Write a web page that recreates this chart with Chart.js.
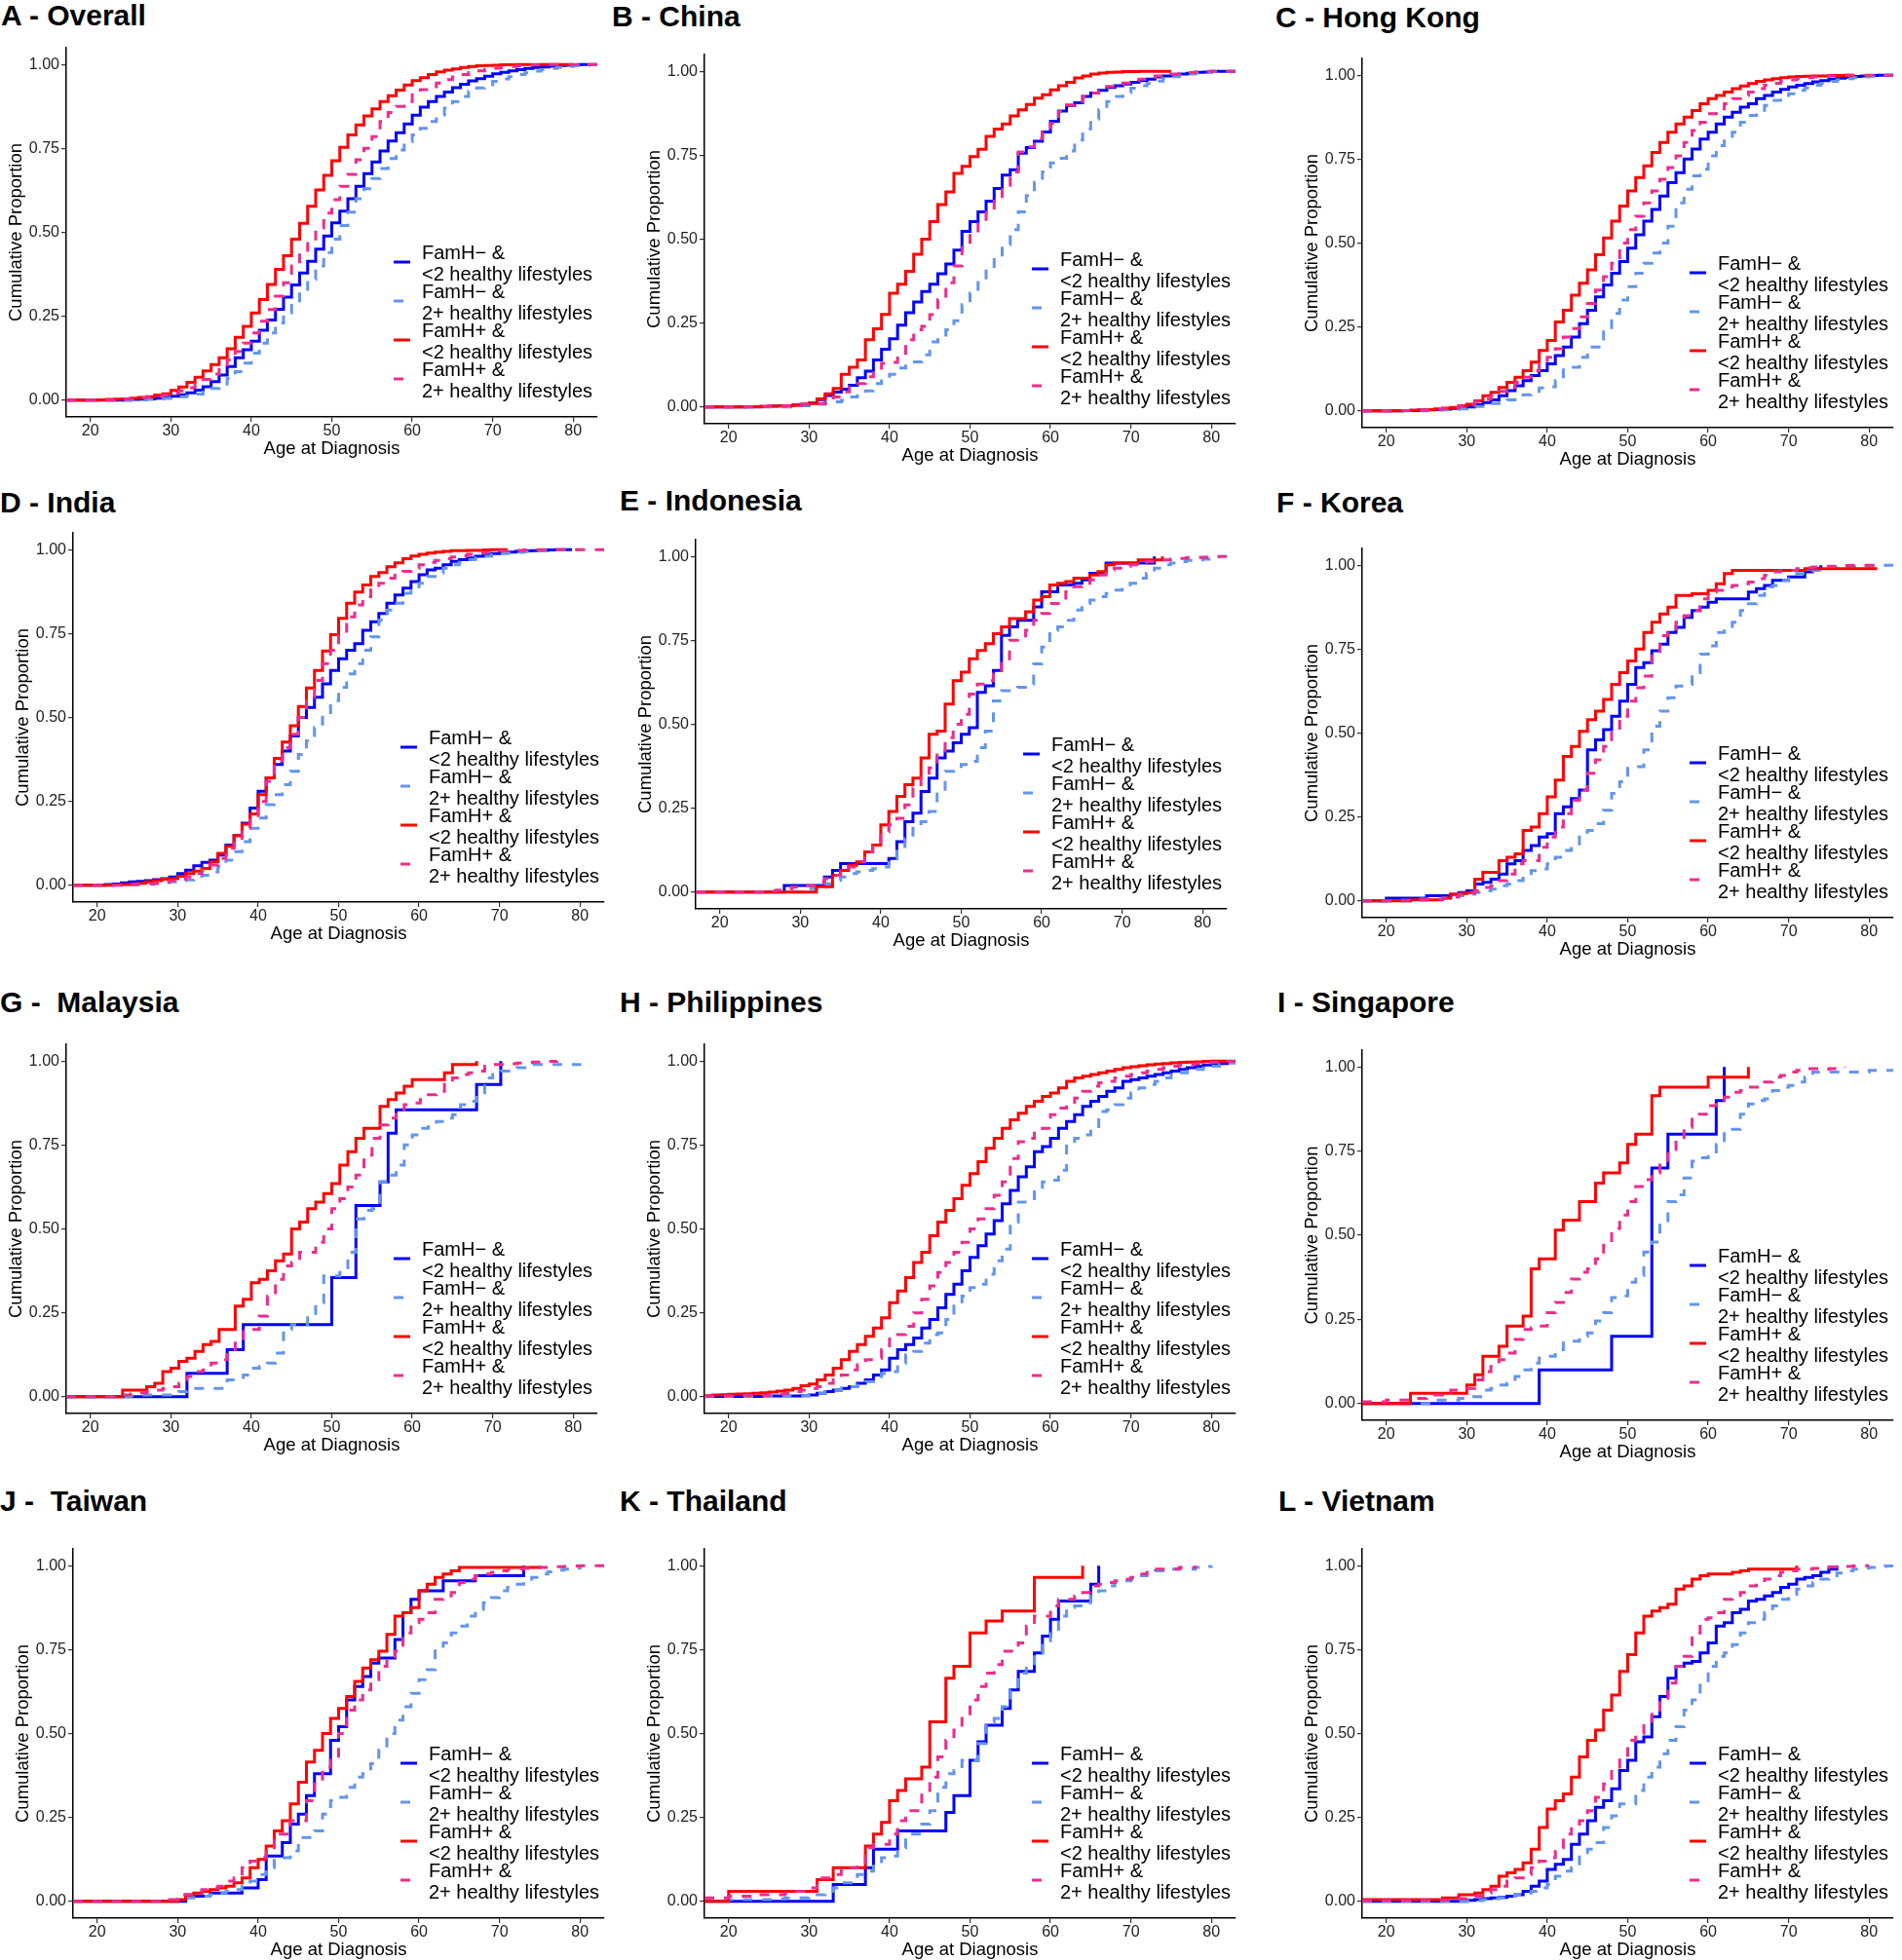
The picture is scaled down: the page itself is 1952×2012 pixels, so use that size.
<!DOCTYPE html>
<html>
<head>
<meta charset="utf-8">
<title>Cumulative proportion by age at diagnosis</title>
<script src="https://cdn.jsdelivr.net/npm/chart.js"></script>
<style>
body {
	margin: 0;
	background: #ffffff;
}
#page {
	position: relative;
	width: 1952px;
	height: 2012px;
	overflow: hidden;
	background: #ffffff;
}
.panel-title {
	position: absolute;
	font: bold 30px "Liberation Sans", Arial, Helvetica, sans-serif;
	line-height: 30px;
	white-space: pre;
	color: #000000;
}
canvas {
	position: absolute;
}
</style>
</head>
<body>
<div id="page"></div>
<script>
// every curve starts at age 17; value i belongs to ages[i]
const ages = [17, 18, 19, 20, 21, 22, 23, 24, 25, 26, 27, 28, 29, 30, 31, 32, 33, 34, 35, 36,
	37, 38, 39, 40, 41, 42, 43, 44, 45, 46, 47, 48, 49, 50, 51, 52, 53, 54, 55, 56,
	57, 58, 59, 60, 61, 62, 63, 64, 65, 66, 67, 68, 69, 70, 71, 72, 73, 74, 75, 76,
	77, 78, 79, 80, 81, 82, 83];

// A - Overall
const overallMinusLt2 = [0,0,0,0,0,0,0,0,.002,.003,
	.004,.006,.009,.012,.016,.022,.03,.04,.055,.075,
	.1,.126,.15,.176,.208,.239,.271,.307,.343,.379,
	.414,.45,.489,.528,.563,.6,.637,.675,.71,.742,
	.772,.797,.823,.849,.873,.89,.905,.918,.931,.941,
	.951,.958,.965,.972,.977,.981,.985,.988,.991,.993,
	.995,.997,.998,.999,1,1,1];
const overallMinus2p = [0,0,0,0,0,0,0,0,0,.001,
	.002,.003,.005,.007,.01,.013,.018,.025,.035,.048,
	.065,.085,.11,.14,.17,.2,.23,.26,.29,.325,
	.36,.4,.44,.48,.52,.56,.6,.63,.66,.69,
	.72,.745,.77,.79,.81,.83,.85,.87,.89,.905,
	.92,.93,.94,.95,.957,.964,.97,.975,.98,.985,
	.988,.991,.994,.996,.998,.999,1];
const overallPlusLt2 = [0,0,0,0,.001,.002,.003,.004,.006,.008,
	.01,.015,.019,.029,.039,.053,.068,.087,.106,.126,
	.153,.187,.22,.26,.3,.345,.39,.43,.48,.527,
	.578,.626,.67,.713,.753,.79,.82,.847,.868,.89,
	.907,.924,.939,.952,.961,.97,.978,.983,.987,.991,
	.994,.996,.997,.998,.999,.999,1,1,1,1,
	1,1,1,1];
const overallPlus2p = [0,0,0,0,0,0,.002,.003,.005,.007,
	.009,.012,.016,.021,.028,.037,.048,.062,.078,.097,
	.12,.145,.17,.2,.235,.27,.31,.35,.4,.44,
	.476,.513,.557,.597,.637,.673,.716,.75,.785,.83,
	.857,.875,.89,.91,.925,.934,.945,.955,.963,.97,
	.976,.981,.985,.989,.992,.994,.996,.998,.999,1,
	1,1,1,1,1,1,1];

// B - China
const chinaMinusLt2 = [0,0,0,0,0,0,0,.001,.002,.003,
	.004,.006,.008,.012,.022,.034,.044,.053,.065,.087,
	.107,.14,.172,.203,.244,.281,.313,.344,.366,.397,
	.426,.467,.523,.552,.581,.613,.651,.691,.707,.756,
	.773,.792,.819,.851,.882,.898,.906,.925,.935,.943,
	.952,.957,.962,.967,.972,.977,.983,.986,.989,.992,
	.994,.997,.998,1,1,1,1];
const chinaMinus2p = [0,0,0,0,0,0,0,0,0,0,
	0,.002,.004,.006,.008,.012,.015,.02,.03,.04,
	.048,.07,.083,.097,.116,.134,.134,.155,.194,.2,
	.23,.257,.305,.339,.378,.412,.446,.484,.528,.581,
	.63,.669,.7,.727,.741,.763,.795,.829,.858,.886,
	.91,.925,.937,.95,.957,.964,.971,.979,.984,.988,
	.992,.995,.997,.999,1,1,1];
const chinaPlusLt2 = [0,0,0,0,0,.001,.001,.002,.003,.003,
	.004,.005,.007,.01,.024,.039,.055,.097,.118,.14,
	.2,.233,.276,.339,.366,.404,.455,.5,.552,.603,
	.641,.696,.717,.746,.768,.806,.828,.843,.867,.885,
	.901,.92,.93,.945,.957,.967,.98,.986,.992,.995,
	.997,.998,.999,.999,1,1,1,1,1];
const chinaPlus2p = [0,0,0,0,0,0,0,.001,.002,.003,
	.004,.005,.007,.01,.01,.02,.03,.045,.06,.07,
	.09,.11,.13,.133,.16,.2,.23,.24,.275,.32,
	.37,.42,.475,.52,.55,.58,.62,.66,.7,.76,
	.775,.8,.82,.845,.88,.9,.91,.925,.935,.945,
	.955,.96,.965,.972,.977,.982,.986,.99,.992,.994,
	.996,.998,1,1,1,1,1];

// C - Hong Kong
const hkMinusLt2 = [0,0,0,0,0,.001,.001,.002,.003,.004,
	.005,.007,.009,.012,.018,.025,.033,.045,.06,.075,
	.09,.105,.12,.14,.165,.19,.22,.26,.3,.34,
	.375,.41,.445,.485,.525,.565,.6,.64,.68,.71,
	.75,.78,.81,.83,.855,.875,.89,.905,.915,.93,
	.94,.95,.958,.965,.97,.975,.98,.984,.988,.991,
	.994,.996,.998,.999,1,1,1];
const hkMinus2p = [0,0,0,0,0,0,0,0,.001,.002,
	.003,.004,.006,.009,.013,.018,.022,.028,.033,.04,
	.048,.058,.068,.072,.09,.13,.13,.16,.19,.19,
	.235,.29,.33,.37,.41,.44,.47,.5,.55,.62,
	.66,.7,.72,.76,.79,.81,.83,.86,.88,.89,
	.91,.925,.935,.945,.955,.962,.97,.976,.982,.986,
	.99,.993,.995,.997,.999,1,1];
const hkPlusLt2 = [0,0,0,0,0,.001,.002,.003,.004,.006,
	.008,.01,.015,.02,.03,.045,.055,.07,.085,.1,
	.12,.145,.18,.21,.265,.3,.345,.38,.42,.465,
	.515,.565,.61,.655,.695,.73,.77,.8,.83,.855,
	.875,.895,.915,.93,.94,.95,.96,.968,.975,.982,
	.986,.99,.993,.995,.996,.997,.998,.998,.999,.999,
	1,1];
const hkPlus2p = [0,0,0,0,0,.001,.001,.002,.003,.005,
	.007,.01,.014,.02,.028,.035,.045,.058,.07,.085,
	.1,.12,.14,.16,.185,.22,.245,.28,.32,.36,
	.4,.44,.5,.54,.58,.62,.655,.69,.725,.76,
	.8,.835,.86,.885,.9,.915,.93,.94,.95,.96,
	.97,.976,.982,.986,.99,.993,.995,.997,.998,.999,
	1,1,1,1,1,1,1];

// D - India
const indiaMinusLt2 = [0,0,0,0,.002,.004,.007,.01,.012,.014,
	.017,.02,.025,.035,.045,.058,.068,.075,.09,.12,
	.148,.185,.23,.28,.32,.36,.4,.445,.5,.53,
	.56,.6,.64,.675,.7,.72,.76,.785,.81,.84,
	.865,.885,.905,.925,.94,.945,.955,.965,.97,.975,
	.98,.984,.988,.991,.993,.995,.996,.997,.998,.999,
	1,1,1];
const indiaMinus2p = [0,0,0,0,0,.001,.001,.002,.003,.004,
	.005,.008,.01,.013,.016,.02,.03,.04,.055,.075,
	.1,.13,.17,.2,.24,.27,.3,.34,.39,.43,
	.47,.51,.55,.59,.63,.66,.7,.74,.79,.82,
	.84,.87,.89,.9,.92,.93,.945,.955,.962,.97,
	.975,.98,.985,.988,.99,.992,.994,.996,.997,.998,
	.999,1,1,1];
const indiaPlusLt2 = [0,0,0,0,0,.001,.002,.003,.006,.01,
	.014,.018,.02,.027,.035,.042,.05,.07,.095,.116,
	.148,.182,.213,.27,.32,.378,.427,.475,.533,.588,
	.64,.698,.747,.795,.84,.874,.895,.92,.932,.949,
	.961,.973,.981,.986,.99,.993,.995,.997,.997,.998,
	.998,.999,1,1,1];
const indiaPlus2p = [0,0,0,0,0,0,.001,.002,.003,.004,
	.006,.01,.014,.018,.025,.035,.045,.06,.08,.11,
	.14,.17,.2,.25,.31,.37,.41,.45,.5,.56,
	.61,.66,.7,.745,.8,.835,.86,.88,.9,.915,
	.93,.935,.945,.955,.962,.968,.973,.978,.982,.986,
	.99,.992,.994,.996,.997,.998,.999,1,1,1,
	1,1,1,1,1,1,1];

// E - Indonesia
const indonesiaMinusLt2 = [0,0,0,0,0,0,0,0,0,0,
	0,.02,.02,.02,.02,.02,.045,.065,.085,.085,
	.085,.085,.085,.085,.1,.15,.21,.235,.3,.34,
	.4,.42,.445,.47,.49,.595,.615,.66,.765,.79,
	.81,.81,.85,.895,.895,.915,.915,.92,.93,.95,
	.95,.98,.98,.98,.98,.98,.98,1];
const indonesiaMinus2p = [0,0,0,0,0,0,0,0,0,0,
	0,0,0,0,.01,.015,.025,.035,.045,.055,
	.06,.065,.07,.075,.1,.13,.16,.19,.21,.24,
	.3,.36,.36,.38,.39,.43,.48,.57,.6,.6,
	.61,.62,.68,.73,.78,.79,.81,.84,.86,.87,
	.88,.89,.9,.91,.92,.935,.95,.965,.975,.98,
	.985,.988,.99,.992,.995,.997];
const indonesiaPlusLt2 = [0,0,0,0,0,0,0,0,0,0,
	0,0,0,0,0,.016,.016,.05,.065,.08,
	.09,.12,.14,.2,.24,.285,.32,.34,.4,.47,
	.48,.56,.63,.655,.695,.72,.74,.77,.79,.815,
	.815,.835,.87,.88,.915,.92,.925,.935,.935,.945,
	.955,.975,.98,.98,.98,.99,.99,.99,1];
const indonesiaPlus2p = [0,0,0,0,0,0,0,0,0,.003,
	.006,.01,.015,.02,.02,.03,.04,.05,.06,.075,
	.09,.12,.145,.18,.2,.22,.26,.31,.34,.37,
	.42,.46,.5,.53,.59,.62,.63,.65,.69,.75,
	.755,.78,.81,.83,.86,.86,.895,.91,.92,.93,
	.945,.96,.965,.97,.975,.98,.985,.99,.99,.992,
	.994,.996,.997,.998,.999,1,1];

// F - Korea
const koreaMinusLt2 = [0,0,0,.008,.008,.008,.008,.008,.015,.015,
	.015,.02,.025,.03,.05,.055,.065,.08,.11,.12,
	.15,.165,.19,.2,.26,.28,.305,.33,.45,.48,
	.51,.55,.595,.645,.695,.71,.745,.765,.8,.815,
	.845,.865,.875,.89,.9,.9,.9,.9,.92,.93,
	.94,.955,.955,.965,.965,.98,.99,1];
const koreaMinus2p = [0,0,0,0,0,0,.003,.005,.005,.005,
	.008,.012,.015,.02,.025,.03,.035,.045,.05,.06,
	.075,.09,.095,.11,.13,.15,.17,.205,.21,.23,
	.27,.32,.355,.395,.4,.45,.52,.565,.605,.64,
	.645,.68,.735,.76,.8,.81,.83,.865,.885,.91,
	.935,.94,.955,.965,.975,.98,.985,.99,.992,.994,
	.995,.996,.997,.998,.999,1,1];
const koreaPlusLt2 = [0,0,0,0,0,0,.003,.003,.003,.003,
	.008,.02,.022,.025,.065,.085,.085,.12,.13,.14,
	.21,.22,.26,.31,.36,.43,.46,.505,.54,.565,
	.6,.645,.68,.715,.75,.8,.83,.855,.875,.91,
	.91,.915,.915,.925,.945,.975,.985,.985,.985,.985,
	.985,.985,.985,.985,.985,.99,.99,.99,.99,.99,
	.99,.99,.99,.99,.99];
const koreaPlus2p = [0,0,0,0,0,.002,.002,.002,.004,.004,
	.008,.012,.02,.025,.03,.04,.045,.06,.08,.11,
	.12,.12,.16,.19,.22,.26,.3,.33,.38,.42,
	.46,.51,.55,.595,.635,.67,.73,.79,.81,.83,
	.85,.865,.9,.92,.925,.935,.94,.945,.95,.96,
	.97,.98,.985,.985,.99,.993,.995,.996,.997,.998,
	.999,1,1,1,1];

// G - Malaysia
const malaysiaMinusLt2 = [0,0,0,0,0,0,0,0,0,0,
	0,0,0,0,0,.07,.07,.07,.07,.07,
	.14,.14,.215,.215,.215,.215,.215,.215,.215,.215,
	.215,.215,.215,.355,.355,.355,.57,.57,.57,.64,
	.785,.855,.855,.855,.855,.855,.855,.855,.855,.855,
	.855,.93,.93,.93,1];
const malaysiaMinus2p = [0,0,0,0,0,0,0,0,.003,.005,
	.005,.005,.005,.005,.015,.025,.025,.025,.025,.025,
	.05,.05,.065,.085,.09,.1,.13,.2,.215,.215,
	.235,.28,.36,.36,.37,.43,.53,.555,.56,.64,
	.66,.69,.75,.78,.8,.81,.82,.83,.84,.87,
	.88,.9,.95,.965,.97,.975,.98,.985,.99,.99,
	.99,.99,.99,.99,.99];
const malaysiaPlusLt2 = [0,0,0,0,0,0,0,.02,.02,.02,
	.03,.04,.075,.085,.105,.115,.135,.155,.165,.2,
	.2,.27,.29,.34,.35,.375,.405,.425,.5,.52,
	.56,.58,.605,.635,.69,.73,.77,.8,.8,.865,
	.885,.905,.925,.945,.945,.945,.945,.965,.99,.99,
	.99,1];
const malaysiaPlus2p = [0,0,0,0,0,0,.003,.005,.008,.012,
	.015,.02,.025,.03,.04,.06,.075,.08,.1,.11,
	.14,.165,.2,.2,.24,.3,.35,.39,.4,.43,
	.43,.46,.5,.56,.59,.625,.66,.72,.77,.81,
	.83,.85,.87,.875,.885,.9,.91,.93,.95,.96,
	.965,.97,.985,.99,.99,.992,.994,.996,.997,.998,
	.999,1];

// H - Philippines
const philMinusLt2 = [.001,.001,.001,.001,.001,.001,.001,.001,.002,.002,
	.002,.002,.003,.005,.01,.015,.02,.025,.03,.04,
	.05,.065,.08,.115,.14,.155,.175,.205,.23,.265,
	.305,.335,.375,.415,.45,.485,.525,.575,.615,.655,
	.685,.73,.745,.77,.8,.82,.84,.865,.88,.895,
	.91,.92,.94,.945,.95,.955,.96,.965,.97,.975,
	.98,.985,.988,.99,.993,.997,1];
const philMinus2p = [.001,.001,.001,.001,.001,.001,.001,.001,.001,.001,
	.003,.003,.003,.006,.01,.015,.02,.025,.03,.035,
	.045,.06,.07,.075,.1,.125,.135,.16,.185,.19,
	.23,.27,.3,.325,.335,.365,.405,.44,.52,.58,
	.58,.615,.64,.645,.675,.755,.77,.78,.8,.85,
	.855,.87,.89,.905,.92,.93,.94,.95,.96,.965,
	.97,.975,.98,.985,.99,.994,.998];
const philPlusLt2 = [.003,.005,.006,.007,.008,.009,.01,.012,.014,.017,
	.02,.025,.033,.038,.05,.065,.085,.11,.135,.155,
	.18,.205,.235,.28,.315,.355,.4,.43,.48,.52,
	.555,.59,.63,.665,.7,.74,.77,.8,.825,.845,
	.865,.88,.895,.905,.92,.94,.95,.955,.96,.965,
	.97,.975,.98,.983,.986,.989,.991,.993,.995,.996,
	.997,.998,.999,1,1,1,1];
const philPlus2p = [.002,.002,.002,.002,.004,.004,.004,.004,.006,.008,
	.01,.015,.02,.025,.03,.04,.05,.065,.08,.095,
	.11,.115,.14,.18,.185,.21,.25,.29,.33,.37,
	.4,.43,.46,.5,.53,.56,.6,.64,.71,.76,
	.77,.79,.8,.84,.86,.87,.89,.91,.925,.935,
	.94,.95,.955,.96,.965,.97,.975,.98,.985,.988,
	.99,.993,.995,.997,.998,.999,1];

// I - Singapore
const singaporeMinusLt2 = [0,0,0,0,0,0,0,0,0,0,
	0,0,0,0,0,0,0,0,0,0,
	0,0,.1,.1,.1,.1,.1,.1,.1,.1,
	.1,.2,.2,.2,.2,.2,.7,.7,.8,.8,
	.8,.8,.8,.8,.9,1];
const singaporeMinus2p = [0,0,0,0,0,0,0,0,0,.01,
	.01,.01,.015,.02,.02,.04,.045,.055,.06,.08,
	.1,.12,.135,.14,.16,.18,.185,.2,.21,.245,
	.27,.315,.32,.36,.38,.45,.48,.53,.6,.62,
	.67,.72,.73,.74,.77,.81,.815,.86,.89,.9,
	.905,.93,.94,.945,.955,.97,.985,.985,.985,.985,
	.985,.985,.985,.99,.99,.99,.99];
const singaporePlusLt2 = [0,0,0,0,0,0,.03,.03,.03,.03,
	.03,.03,.03,.055,.085,.14,.14,.17,.23,.23,
	.26,.4,.43,.43,.515,.545,.545,.6,.6,.655,
	.685,.685,.715,.77,.8,.8,.915,.94,.94,.94,
	.94,.94,.94,.97,.97,.97,.97,.97,1];
const singaporePlus2p = [.005,.005,.005,.01,.01,.01,.01,.015,.02,.025,
	.035,.04,.04,.045,.07,.095,.11,.13,.15,.19,
	.22,.225,.23,.27,.3,.33,.37,.39,.4,.43,
	.47,.52,.56,.6,.645,.665,.685,.715,.755,.79,
	.82,.86,.86,.885,.9,.91,.925,.93,.94,.94,
	.955,.97,.975,.985,.99,.995,.995,.993,.995,.997,
	1];

// J - Taiwan
const taiwanMinusLt2 = [0,0,0,0,0,0,0,0,0,0,
	0,0,0,0,.015,.015,.015,.025,.025,.025,
	.025,.04,.04,.065,.135,.135,.175,.23,.26,.315,
	.38,.38,.48,.52,.6,.64,.67,.71,.725,.725,
	.78,.86,.9,.925,.925,.925,.955,.955,.955,.955,
	.97,.97,.97,.97,.97,.97,1];
const taiwanMinus2p = [0,0,0,0,0,0,0,0,0,0,
	0,0,0,.005,.01,.015,.015,.02,.025,.03,
	.035,.045,.06,.08,.1,.13,.13,.15,.19,.19,
	.21,.26,.3,.31,.34,.37,.38,.41,.45,.5,
	.54,.58,.62,.66,.69,.75,.77,.8,.82,.85,
	.87,.89,.905,.925,.935,.945,.955,.965,.975,.982,
	.987,.99,.993,.995];
const taiwanPlusLt2 = [0,0,0,0,0,0,0,0,0,0,
	0,0,0,.005,.02,.025,.03,.035,.04,.045,
	.055,.07,.1,.125,.165,.21,.24,.29,.355,.415,
	.45,.5,.545,.575,.61,.655,.695,.72,.745,.795,
	.85,.86,.875,.925,.945,.965,.975,.985,.995,.995,
	.995,.995,.995,.995,.995,.995,.995,.995,1];
const taiwanPlus2p = [0,0,0,0,0,0,0,0,0,0,
	0,.002,.005,.02,.02,.025,.035,.04,.045,.06,
	.07,.1,.12,.13,.15,.2,.2,.24,.24,.3,
	.35,.4,.42,.5,.57,.6,.63,.66,.7,.72,
	.745,.8,.83,.84,.86,.9,.91,.92,.95,.96,
	.97,.975,.98,.985,.99,.99,.992,.994,.995,.996,
	.997,.998,.999,1,1,1,1];

// K - Thailand
const thailandMinusLt2 = [0,0,0,0,0,0,0,0,0,0,
	0,0,0,0,0,0,.05,.05,.05,.05,
	.1,.155,.155,.155,.21,.21,.21,.21,.21,.21,
	.265,.315,.315,.42,.475,.525,.525,.575,.63,.685,
	.685,.74,.79,.84,.895,.895,.895,.895,.945,1];
const thailandMinus2p = [.003,.003,.003,.005,.005,.005,.005,.005,.005,.007,
	.01,.01,.01,.015,.02,.03,.04,.055,.055,.08,
	.09,.11,.13,.135,.16,.2,.2,.23,.27,.34,
	.38,.39,.42,.42,.47,.535,.545,.58,.63,.68,
	.7,.74,.77,.8,.85,.875,.88,.89,.91,.925,
	.94,.95,.955,.96,.97,.98,.985,.99,.99,.99,
	.99,.995,.998,1];
const thailandPlusLt2 = [0,0,0,.03,.03,.03,.03,.03,.03,.03,
	.03,.03,.03,.03,.065,.065,.1,.1,.1,.1,
	.165,.2,.235,.3,.33,.365,.365,.4,.535,.535,
	.665,.7,.7,.8,.8,.835,.835,.865,.865,.865,
	.865,.965,.965,.965,.965,.965,.965,1];
const thailandPlus2p = [.01,.01,.01,.015,.015,.015,.02,.02,.02,.02,
	.025,.03,.03,.04,.07,.07,.08,.1,.1,.11,
	.16,.17,.17,.2,.24,.27,.27,.33,.37,.43,
	.48,.51,.55,.6,.64,.68,.705,.745,.745,.77,
	.82,.85,.85,.88,.9,.9,.91,.92,.94,.945,
	.95,.955,.96,.965,.975,.99,.99,.99,.99,.995,
	.995,1];

// L - Vietnam
const vietnamMinusLt2 = [0,0,0,0,0,0,0,0,0,0,
	0,0,0,.003,.005,.008,.01,.012,.015,.02,
	.03,.045,.06,.095,.11,.125,.17,.2,.24,.28,
	.3,.335,.39,.42,.475,.49,.55,.61,.665,.7,
	.71,.715,.74,.77,.82,.83,.86,.87,.895,.9,
	.91,.92,.935,.945,.96,.965,.97,.98,.99,1];
const vietnamMinus2p = [0,0,0,0,0,0,0,0,0,0,
	0,0,0,0,.002,.005,.008,.01,.015,.02,
	.025,.03,.04,.05,.075,.09,.1,.145,.155,.175,
	.22,.255,.29,.29,.33,.37,.4,.44,.48,.52,
	.57,.6,.65,.7,.73,.74,.765,.8,.83,.84,
	.86,.88,.9,.915,.93,.94,.95,.96,.97,.978,
	.985,.99,.993,.995,.997,.999,1];
const vietnamPlusLt2 = [.005,.005,.005,.005,.005,.005,.005,.005,.005,.005,
	.01,.01,.02,.02,.025,.035,.045,.075,.085,.095,
	.115,.155,.22,.275,.3,.32,.37,.43,.48,.51,
	.57,.615,.685,.735,.8,.85,.865,.875,.885,.93,
	.94,.96,.97,.975,.975,.975,.98,.985,.99,.99,
	.99,.99,.99,.99,1];
const vietnamPlus2p = [.002,.002,.002,.002,.002,.002,.003,.003,.003,.003,
	.003,.005,.008,.01,.015,.025,.035,.045,.06,.07,
	.08,.1,.12,.13,.16,.2,.23,.24,.27,.31,
	.35,.4,.43,.48,.5,.53,.57,.6,.65,.7,
	.73,.8,.84,.845,.86,.9,.905,.92,.94,.95,
	.96,.97,.98,.985,.99,.99,.992,.994,.996,.997,
	.998,.999,1,1];

const panelTitles = ['A - Overall', 'B - China', 'C - Hong Kong', 'D - India', 'E - Indonesia', 'F - Korea',
	'G -  Malaysia', 'H - Philippines', 'I - Singapore', 'J -  Taiwan', 'K - Thailand', 'L - Vietnam'];
const panelCurves = [
	[overallMinusLt2, overallMinus2p, overallPlusLt2, overallPlus2p],
	[chinaMinusLt2, chinaMinus2p, chinaPlusLt2, chinaPlus2p],
	[hkMinusLt2, hkMinus2p, hkPlusLt2, hkPlus2p],
	[indiaMinusLt2, indiaMinus2p, indiaPlusLt2, indiaPlus2p],
	[indonesiaMinusLt2, indonesiaMinus2p, indonesiaPlusLt2, indonesiaPlus2p],
	[koreaMinusLt2, koreaMinus2p, koreaPlusLt2, koreaPlus2p],
	[malaysiaMinusLt2, malaysiaMinus2p, malaysiaPlusLt2, malaysiaPlus2p],
	[philMinusLt2, philMinus2p, philPlusLt2, philPlus2p],
	[singaporeMinusLt2, singaporeMinus2p, singaporePlusLt2, singaporePlus2p],
	[taiwanMinusLt2, taiwanMinus2p, taiwanPlusLt2, taiwanPlus2p],
	[thailandMinusLt2, thailandMinus2p, thailandPlusLt2, thailandPlus2p],
	[vietnamMinusLt2, vietnamMinus2p, vietnamPlusLt2, vietnamPlus2p]
];
const groupLabels = [
	['FamH\u2212 &', '<2 healthy lifestyles'],
	['FamH\u2212 &', '2+ healthy lifestyles'],
	['FamH+ &', '<2 healthy lifestyles'],
	['FamH+ &', '2+ healthy lifestyles']
];
const xTicks = [20, 30, 40, 50, 60, 70, 80];
const yTicks = [0, 0.25, 0.5, 0.75, 1];

// look
const groupColors = ['#0000ff', '#6495ed', '#ff0000', '#ee2c8c'];
const groupDash = [[], [10, 10], [], [10, 10]];
const fontFamily = '"Liberation Sans", Arial, Helvetica, sans-serif';

// plot frame of each panel on the page: y axis x, top, right end, x axis y
const frames = [
	[68, 49, 613, 428], [723, 56, 1268, 435], [1398, 60, 1943, 439],
	[75, 547, 620, 926], [714, 554, 1259, 933], [1398, 563, 1943, 942],
	[68, 1072, 613, 1451], [723, 1072, 1268, 1451], [1398, 1078, 1943, 1458],
	[75, 1590, 620, 1969], [723, 1590, 1268, 1969], [1398, 1590, 1943, 1969]
];
// left edge and cap top of each panel title
const titleSpots = [
	[1, 5], [628, 6], [1309, 7],
	[0, 505], [636, 503], [1310, 505],
	[0, 1018], [636, 1018], [1311, 1018],
	[0, 1530], [636, 1530], [1312, 1530]
];

Chart.defaults.font.family = fontFamily;

// legend sits inside the plot, bottom right, two text lines per key
const insideLegend = {
	id: 'insideLegend',
	afterDraw(chart) {
		const {ctx, chartArea} = chart;
		ctx.save();
		ctx.font = '20px ' + fontFamily;
		ctx.fillStyle = '#000000';
		ctx.textAlign = 'left';
		ctx.textBaseline = 'alphabetic';
		chart.data.datasets.forEach((ds, g) => {
			const ky = chartArea.bottom - 39 - (3 - g) * 40;
			const kx = chartArea.right - 209;
			ctx.strokeStyle = ds.borderColor;
			ctx.lineWidth = 3;
			ctx.lineCap = 'butt';
			ctx.setLineDash(ds.borderDash);
			ctx.beginPath();
			ctx.moveTo(kx, ky);
			ctx.lineTo(kx + 17, ky);
			ctx.stroke();
			ctx.setLineDash([]);
			ctx.fillText(groupLabels[g][0], kx + 29, ky - 3);
			ctx.fillText(groupLabels[g][1], kx + 29, ky + 19);
		});
		ctx.restore();
	}
};

const page = document.getElementById('page');

panelTitles.forEach((t, p) => {
	const d = document.createElement('div');
	d.className = 'panel-title';
	d.textContent = t;
	d.style.left = titleSpots[p][0] + 'px';
	d.style.top = (titleSpots[p][1] - 4) + 'px';
	page.appendChild(d);
});

frames.forEach((f, p) => {
	const [axisX, top, right, bottom] = f;
	const left = axisX - 68;
	const ctop = top - 8;
	const cv = document.createElement('canvas');
	cv.width = right + 6 - left;
	cv.height = bottom + 50 - ctop;
	cv.style.left = left + 'px';
	cv.style.top = ctop + 'px';
	page.appendChild(cv);

	new Chart(cv, {
		type: 'line',
		data: {
			datasets: panelCurves[p].map((vals, g) => ({
				label: groupLabels[g].join(' '),
				data: vals.map((v, i) => ({x: ages[i], y: v})),
				borderColor: groupColors[g],
				borderWidth: 3,
				borderDash: groupDash[g],
				borderJoinStyle: 'miter',
				stepped: 'before',
				pointRadius: 0,
				fill: false,
				order: 4 - g
			}))
		},
		options: {
			responsive: false,
			animation: false,
			devicePixelRatio: 1,
			layout: {padding: {left: 0, top: 8, right: 6, bottom: 0}},
			plugins: {
				legend: {display: false},
				tooltip: {enabled: false},
				title: {display: false}
			},
			scales: {
				x: {
					type: 'linear',
					min: 17,
					max: 83,
					afterBuildTicks: s => { s.ticks = xTicks.map(v => ({value: v})); },
					ticks: {
						font: {size: 16},
						color: '#222222',
						padding: 0,
						maxRotation: 0,
						autoSkip: false,
						callback: v => String(v)
					},
					grid: {display: true, drawOnChartArea: false, drawTicks: true, tickLength: 5, color: '#333333', lineWidth: 1.2},
					border: {display: true, color: '#000000', width: 1.5},
					title: {display: true, text: 'Age at Diagnosis', font: {size: 18.5}, color: '#000000', padding: {top: 0, bottom: 6}},
					afterFit: s => { s.height = 50; s.paddingLeft = 0; s.paddingRight = 0; }
				},
				y: {
					type: 'linear',
					min: -0.05,
					max: 1.05,
					afterBuildTicks: s => { s.ticks = yTicks.map(v => ({value: v})); },
					ticks: {
						font: {size: 16},
						color: '#222222',
						padding: 2,
						autoSkip: false,
						callback: v => Number(v).toFixed(2)
					},
					grid: {display: true, drawOnChartArea: false, drawTicks: true, tickLength: 5, color: '#333333', lineWidth: 1.2},
					border: {display: true, color: '#000000', width: 1.5},
					title: {display: true, text: 'Cumulative Proportion', font: {size: 18.5}, color: '#000000', padding: {top: 6, bottom: 0}},
					afterFit: s => { s.width = 68; s.paddingTop = 0; s.paddingBottom = 0; }
				}
			}
		},
		plugins: [insideLegend]
	});
});
</script>
</body>
</html>
